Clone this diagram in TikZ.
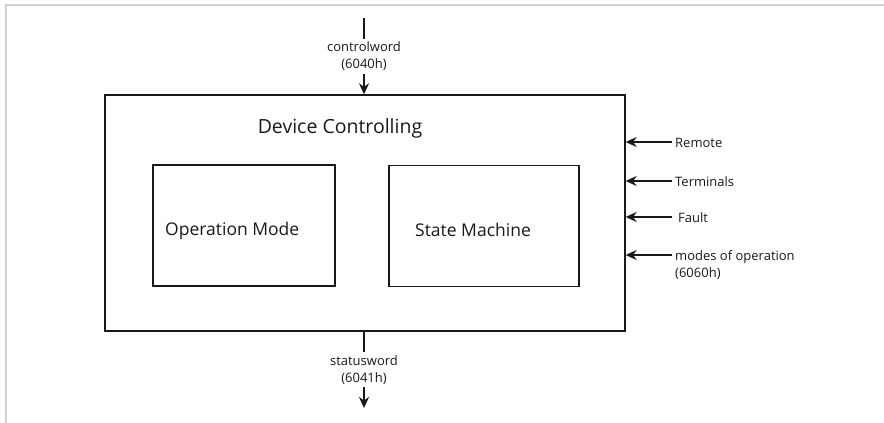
\documentclass[tikz,border=0pt]{standalone}
\usepackage{fontspec}
\setmainfont{Open Sans}
\usetikzlibrary{arrows.meta, positioning}
\definecolor{lineBlack}{gray}{0.1}
\definecolor{frameGray}{gray}{0.82}

\begin{document}
\begin{tikzpicture}[x=1pt, y=-1pt, >={Stealth[length=11pt, width=10pt]},
    box/.style={draw=lineBlack, line width=1.3pt, inner sep=0pt},
    big/.style={font=\fontsize{17.5}{20}\selectfont, text=lineBlack, inner sep=0pt},
    small/.style={font=\fontsize{13}{17}\selectfont, text=lineBlack, inner xsep=1pt, inner ysep=3pt},
    sig/.style={->, line width=1.7pt, lineBlack}]
    \useasboundingbox (0,0) rectangle (884,423);
    \draw[frameGray, line width=1.5pt] (6,423) -- (6,5) -- (884,5);

    % boxes
    \node[box, minimum width=520pt, minimum height=236pt] (dev) at (365,213) {};
    \node[box, minimum width=182pt, minimum height=121pt] (opmode) at (244,225.5) {};
    \node[box, minimum width=190pt, minimum height=121pt] (statem) at (484,226) {};

    \node[big, font=\fontsize{19.5}{22}\selectfont, anchor=base] (devlabel) at (340,133) {Device Controlling};
    \node[big, anchor=base west] (opmodelabel) at (165,235) {Operation Mode};
    \node[big, anchor=base west] (statemlabel) at (415,236) {State Machine};

    % control and status word
    \coordinate (ctrlin) at (364,18);
    \coordinate (statout) at (364,408);
    \draw[sig] (ctrlin) -- (ctrlin |- dev.north)
        node[midway, small, align=center, fill=white] (ctrllabel) {controlword\\(6040h)};
    \draw[sig] (statout |- dev.south) -- (statout)
        node[midway, small, align=center, fill=white] (statlabel) {statusword\\(6041h)};

    % inputs on the right
    \coordinate (remote) at (672,142);
    \coordinate (terminals) at (672,181);
    \coordinate (fault) at (672,217);
    \coordinate (modes) at (672,255);
    \draw[sig] (remote) -- (remote -| dev.east);
    \draw[sig] (terminals) -- (terminals -| dev.east);
    \draw[sig] (fault) -- (fault -| dev.east);
    \draw[sig] (modes) -- (modes -| dev.east);
    \node[small, anchor=base west] (remotelabel) at ([xshift=2pt, yshift=-5pt]remote) {Remote};
    \node[small, anchor=base west] (terminalslabel) at ([xshift=2pt, yshift=-5pt]terminals) {Terminals};
    \node[small, anchor=base west] (faultlabel) at ([xshift=5pt, yshift=-5pt]fault) {Fault};
    \node[small, anchor=base west, align=left] (modeslabel) at ([xshift=2pt, yshift=-22pt]modes) {modes of operation\\(6060h)};
\end{tikzpicture}
\end{document}
